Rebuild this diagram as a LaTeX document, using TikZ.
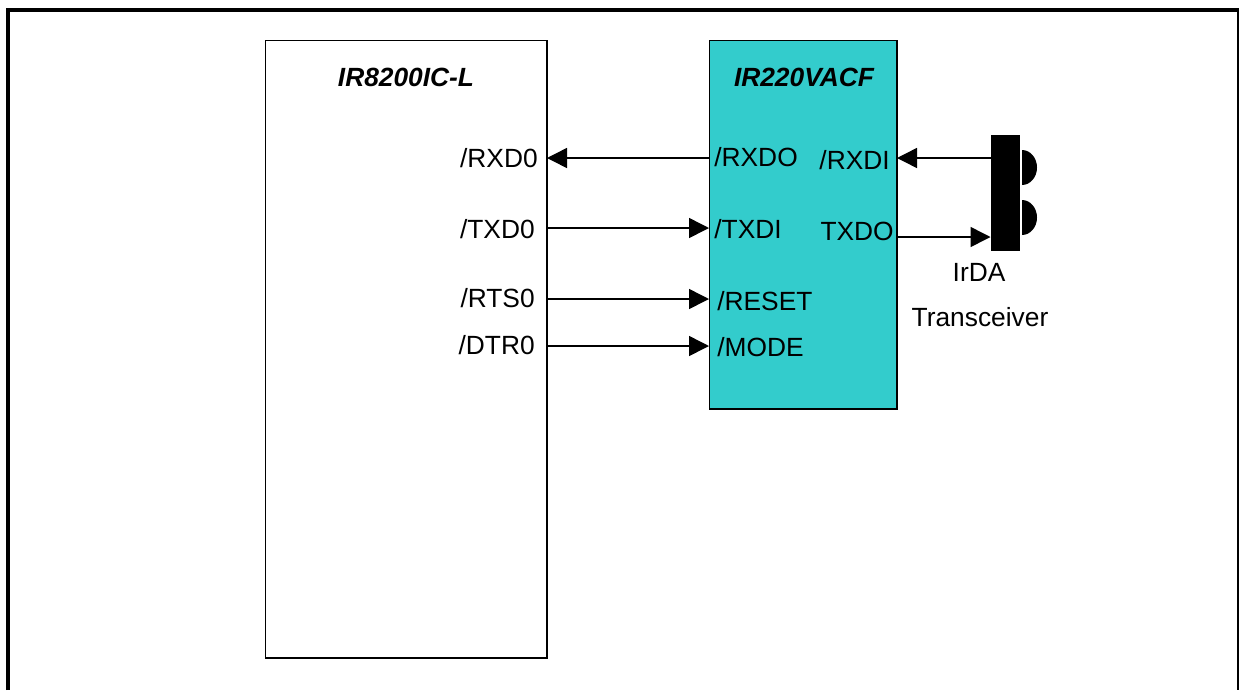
\documentclass[tikz,border=0pt]{standalone}
\usepackage{fontspec}
\setmainfont{Liberation Sans}
\usepackage{tikz}
\usetikzlibrary{arrows.meta}
\definecolor{chipcyan}{RGB}{51,204,204}
\tikzset{
  chip/.style={draw, line width=0.9pt, anchor=north west, inner sep=0pt, outer sep=0pt},
  title/.style={font=\fontsize{15.8}{18}\selectfont\bfseries\itshape},
  pin/.style={font=\fontsize{15.8}{18}\selectfont, inner sep=0pt},
  wire/.style={line width=0.9pt, -{Triangle[length=12pt, width=12pt]}}
}
\begin{document}
\begin{tikzpicture}[x=0.6pt, y=-0.6pt]
\useasboundingbox (0,0) rectangle (1239,690);
% outer frame
\draw[line width=2.4pt] (8,690) -- (8,10) -- (1238.5,10) -- (1238.5,690);
% chips
\node[chip, minimum width=168.9pt, minimum height=370.5pt] (ic) at (265.6,40.6) {};
\node[chip, fill=chipcyan, minimum width=112.5pt, minimum height=221.1pt] (conv) at (709.6,40.6) {};
\node[title] (ictitle) at (406,77) {IR8200IC-L};
\node[title] (convtitle) at (804,77) {IR220VACF};
% left pins
\node[pin, anchor=east] (rxd0) at (538,158) {/RXD0};
\node[pin, anchor=east] (txd0) at (535,229) {/TXD0};
\node[pin, anchor=east] (rts0) at (535,298) {/RTS0};
\node[pin, anchor=east] (dtr0) at (535,345) {/DTR0};
% right pins
\node[pin, anchor=west] (rxdo) at (714,157) {/RXDO};
\node[pin, anchor=west] (txdi) at (714,229) {/TXDI};
\node[pin, anchor=west] (reset) at (717,301) {/RESET};
\node[pin, anchor=west] (mode) at (717,347) {/MODE};
\node[pin, anchor=east] (rxdi) at (890,160) {/RXDI};
\node[pin, anchor=east] (txdo) at (894,231) {TXDO};
% transceiver
\node[fill=black, inner sep=0pt, anchor=north west, minimum width=17.4pt, minimum height=69.6pt] (ir) at (990.5,135) {};
\fill (1022,150) arc[start angle=-90, end angle=90, x radius=15, y radius=17.5] -- cycle;
\fill (1022,200) arc[start angle=-90, end angle=90, x radius=15, y radius=17.5] -- cycle;
\node[pin] (irda) at (979,272) {IrDA};
\node[pin] (trans) at (980,317) {Transceiver};
% end points on the chips
\coordinate (a1) at (547,158);
\coordinate (b1) at (709,158);
\coordinate (a2) at (547,228);
\coordinate (b2) at (709,228);
\coordinate (a3) at (547,299);
\coordinate (b3) at (709,299);
\coordinate (a4) at (547,346);
\coordinate (b4) at (709,346);
\coordinate (c1) at (897,158);
\coordinate (d1) at (990.5,158);
\coordinate (c2) at (897,237);
\coordinate (d2) at (990.5,237);
% wires
\draw[wire] (b1) -- (a1);
\draw[wire] (a2) -- (b2);
\draw[wire] (a3) -- (b3);
\draw[wire] (a4) -- (b4);
\draw[wire] (d1) -- (c1);
\draw[wire] (c2) -- (d2);
\end{tikzpicture}
\end{document}
